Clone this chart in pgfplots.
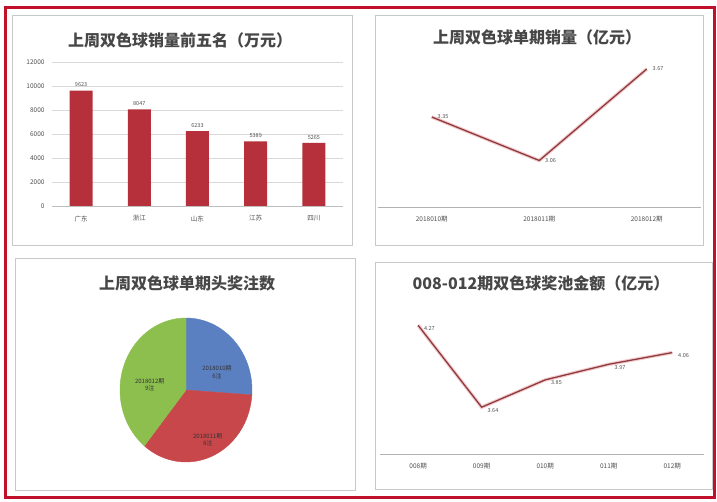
\documentclass[border=0pt]{standalone}
\usepackage{fontspec}
\setmainfont{Noto Sans CJK SC}
\usepackage{pgfplots}
\pgfplotsset{compat=1.18}
\definecolor{framered}{HTML}{C0102A}
\definecolor{barred}{HTML}{B5303B}
\definecolor{linered}{HTML}{8E3B3E}
\definecolor{linepink}{HTML}{EBA9AE}
\definecolor{pieblue}{HTML}{5B80C2}
\definecolor{piered}{HTML}{C8474B}
\definecolor{piegreen}{HTML}{8DBF4F}
\definecolor{paneledge}{HTML}{C8C8C8}
\definecolor{titlegray}{HTML}{474747}
\definecolor{textgray}{HTML}{505050}

\pgfplotsset{
  panel/.style={
    scale only axis,
    /pgf/number format/assume math mode=true,
    /pgf/number format/1000 sep={},
    major tick length=0pt,
    tick label style={font=\fontsize{6.5}{7}\selectfont, text=textgray},
  },
  linepanel/.style={
    panel,
    axis x line*=bottom,
    axis y line=none,
    x axis line style={draw=gray!60, line width=0.8pt},
    xtick=data,
    xticklabel style={yshift=-6pt},
    clip=false,
  },
}

% pie values (head prizes per draw)
\def\pa{6}\def\pb{8}\def\pc{9}

\begin{document}
\begin{tikzpicture}
\fill[white] (0pt,0pt) rectangle (717pt,501pt);
\draw[framered, line width=3pt] (5.5pt,4pt) rectangle (714.5pt,493pt);

% panels
\draw[paneledge, line width=0.8pt, fill=white] (12pt,256pt) rectangle (352pt,486pt);
\draw[paneledge, line width=0.8pt, fill=white] (375pt,256pt) rectangle (703pt,486pt);
\draw[paneledge, line width=0.8pt, fill=white] (15pt,11pt) rectangle (355pt,243pt);
\draw[paneledge, line width=0.8pt, fill=white] (375pt,12pt) rectangle (712pt,239pt);

% titles
\begin{scope}[every node/.style={font=\fontsize{16}{18}\selectfont\bfseries, text=titlegray}]
\node at (180pt,461pt) {上周双色球销量前五名（万元）};
\node at (537pt,464pt) {上周双色球单期销量（亿元）};
\node at (187pt,218pt) {上周双色球单期头奖注数};
\node at (541pt,218pt) {008-012期双色球奖池金额（亿元）};
\end{scope}

% panel 1: bars
\begin{axis}[panel,
  at={(52pt,295pt)}, anchor=south west,
  width=291pt, height=144pt,
  xmin=-0.5, xmax=4.5,
  ymin=0, ymax=12000,
  ytick={0,2000,...,12000},
  scaled y ticks=false,
  xtick={0,1,2,3,4},
  xticklabels={广东,浙江,山东,江苏,四川},
  xticklabel style={yshift=-6pt},
  yticklabel style={xshift=-4pt},
  ymajorgrids,
  grid style={draw=gray!30, line width=0.7pt},
  axis x line*=bottom,
  axis y line*=left,
  y axis line style={draw=none},
  x axis line style={draw=gray!50, line width=0.7pt},
  ybar, bar width=23pt,
  nodes near coords,
  every node near coord/.append style={font=\fontsize{5.5}{6}\selectfont, text=textgray},
  clip=false,
]
\addplot[fill=barred, draw=none] coordinates {
  (0,9623) (1,8047) (2,6233) (3,5389) (4,5265)
};
\end{axis}

% panel 2: weekly sales line
\begin{axis}[linepanel,
  at={(378pt,294pt)}, anchor=south west,
  width=322.5pt, height=157.5pt,
  xmin=-0.5, xmax=2.5,
  ymin=2.75, ymax=3.8,
  xticklabels={2018010期,2018011期,2018012期},
]
\addplot[linepink, line width=3.5pt, opacity=0.6] coordinates {(0,3.35) (1,3.06) (2,3.67)};
\addplot[linered, line width=1.3pt,
  nodes near coords, point meta=explicit symbolic,
  every node near coord/.append style={anchor=west, xshift=2pt, font=\fontsize{5.5}{6}\selectfont, text=textgray}]
  coordinates {(0,3.35)[3.35] (1,3.06)[3.06] (2,3.67)[3.67]};
\end{axis}

% panel 3: pie
\pgfmathsetmacro{\tot}{\pa+\pb+\pc}
\pgfmathsetmacro{\aA}{90}
\pgfmathsetmacro{\aB}{90-360*\pa/\tot}
\pgfmathsetmacro{\aC}{\aB-360*\pb/\tot}
\pgfmathsetmacro{\aD}{\aC-360*\pc/\tot}
\begin{axis}[
  at={(186pt,111pt)}, anchor=center,
  scale only axis, width=132pt, height=144pt,
  xmin=-1, xmax=1, ymin=-1, ymax=1,
  hide axis, clip=false,
]
\addplot[fill=pieblue, draw=pieblue, domain=\aB:\aA, samples=60, variable=\t] ({cos(\t)},{sin(\t)}) -- (0,0) -- cycle;
\addplot[fill=piered, draw=piered, domain=\aC:\aB, samples=60, variable=\t] ({cos(\t)},{sin(\t)}) -- (0,0) -- cycle;
\addplot[fill=piegreen, draw=piegreen, domain=\aD:\aC, samples=60, variable=\t] ({cos(\t)},{sin(\t)}) -- (0,0) -- cycle;
\begin{scope}[every node/.style={font=\fontsize{6}{7.5}\selectfont, align=center, text=black!80}]
\node at (axis cs:0.47,0.25) {2018010期\\\pa 注};
\node at (axis cs:0.33,-0.69) {2018011期\\\pb 注};
\node at (axis cs:-0.55,0.07) {2018012期\\\pc 注};
\end{scope}
\end{axis}

% panel 4: jackpot line
\begin{axis}[linepanel,
  at={(380pt,47pt)}, anchor=south west,
  width=324pt, height=145.6pt,
  xmin=-0.6, xmax=4.5,
  ymin=3.28, ymax=4.4,
  xticklabels={008期,009期,010期,011期,012期},
]
\addplot[linepink, line width=3.5pt, opacity=0.6] coordinates {(0,4.27) (1,3.64) (2,3.85) (3,3.97) (4,4.06)};
\addplot[linered, line width=1.3pt,
  nodes near coords, point meta=explicit symbolic,
  every node near coord/.append style={anchor=west, xshift=2pt, yshift=-3pt, font=\fontsize{5.5}{6}\selectfont, text=textgray}]
  coordinates {(0,4.27)[4.27] (1,3.64)[3.64] (2,3.85)[3.85] (3,3.97)[3.97] (4,4.06)[4.06]};
\end{axis}
\end{tikzpicture}
\end{document}
